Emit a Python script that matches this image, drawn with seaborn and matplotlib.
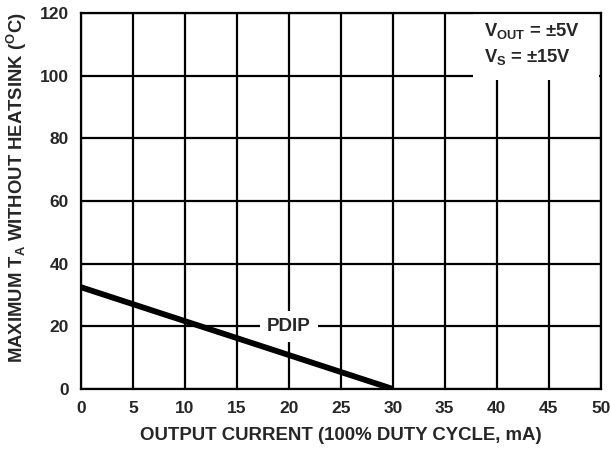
import matplotlib
matplotlib.use("Agg")
import matplotlib.pyplot as plt
import seaborn as sns
import pandas as pd

# data
current = [0, 30]
temp_max = [32.5, 0]
xticks = [0, 5, 10, 15, 20, 25, 30, 35, 40, 45, 50]
yticks = [0, 20, 40, 60, 80, 100, 120]

sns.set_style("white")
plt.rcParams['font.family'] = ['Liberation Sans', 'DejaVu Sans']
plt.rcParams['font.weight'] = 'bold'
plt.rcParams['mathtext.fontset'] = 'custom'
plt.rcParams['mathtext.rm'] = 'Liberation Sans:bold'
plt.rcParams['mathtext.bf'] = 'Liberation Sans:bold'
plt.rcParams['mathtext.it'] = 'Liberation Sans:bold'

df = pd.DataFrame({'current': current, 'temp': temp_max})

fig = plt.figure(figsize=(6.1, 4.5), dpi=100)
ax = fig.add_axes([0.1328, 0.1356, 0.852, 0.835])

for x in xticks:
    ax.axvline(x, color='k', lw=1.6, zorder=1)
for y in yticks:
    ax.axhline(y, color='k', lw=1.6, zorder=1)

sns.lineplot(data=df, x='current', y='temp', ax=ax, color='k', lw=4.2, zorder=3,
             solid_capstyle='butt')

ax.set_xlim(0, 50)
ax.set_ylim(0, 120)
ax.set_xticks(xticks)
ax.set_yticks(yticks)
ax.tick_params(labelsize=12.5, length=0, pad=9)
for lab in ax.get_xticklabels() + ax.get_yticklabels():
    lab.set_fontweight('bold')
for s in ax.spines.values():
    s.set_linewidth(1.6)
    s.set_color('k')

ax.set_xlabel("OUTPUT CURRENT (100% DUTY CYCLE, mA)", fontsize=13.4, fontweight='bold')
ax.xaxis.set_label_coords(0.5, -0.1)
ax.set_ylabel(r"MAXIMUM T$_\mathrm{A}$ WITHOUT HEATSINK ($^\mathrm{O}$C)", fontsize=13.3,
              fontweight='bold')
ax.yaxis.set_label_coords(-0.1, 0.535)

ax.text(20, 20, "PDIP", ha='center', va='center', fontsize=13.5, fontweight='bold',
        bbox=dict(facecolor='white', edgecolor='none', pad=5), zorder=4)

# white box behind the conditions text
ax.add_patch(plt.Rectangle((37.7, 98.6), 12.1, 21.2, facecolor='white', edgecolor='none', zorder=2))
ax.text(38.8, 114.2, r"V$_\mathrm{OUT}$ = ±5V", ha='left', va='center', fontsize=13.2,
        fontweight='bold', zorder=4)
ax.text(38.8, 106.0, r"V$_\mathrm{S}$ = ±15V", ha='left', va='center', fontsize=13.2,
        fontweight='bold', zorder=4)

fig.savefig("out.png", dpi=100)
